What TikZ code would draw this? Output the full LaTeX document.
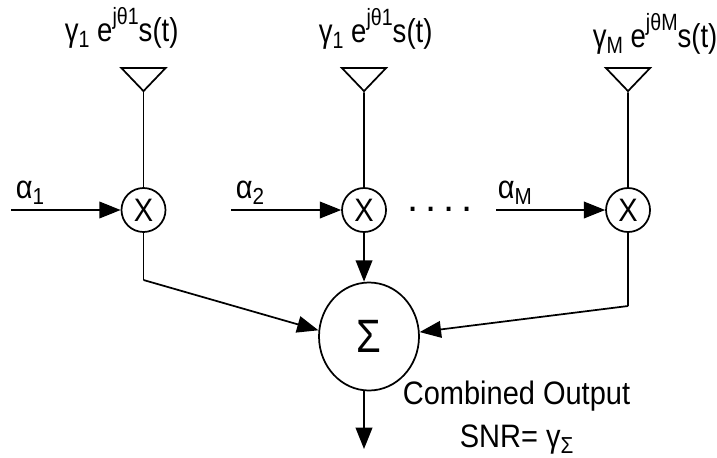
\documentclass[tikz,border=0pt]{standalone}
\usepackage{graphicx}
\usepackage{fontspec}
\setmainfont{Liberation Sans}
\usepackage{tikz}
\usetikzlibrary{shapes.geometric, arrows.meta}

\newcommand{\upidx}[1]{\raisebox{0.5em}{\fontsize{15.5pt}{15.5pt}\selectfont #1}}
\newcommand{\lowidx}[1]{\raisebox{-0.2em}{\fontsize{15.5pt}{15.5pt}\selectfont #1}}
\newcommand{\tall}[1]{\scalebox{1}[1.12]{#1}}
\newcommand{\tallnarrow}[1]{\scalebox{0.95}[1.14]{#1}}

\begin{document}
\begin{tikzpicture}[
    x=0.75pt, y=-0.75pt,
    line width=1.3pt,
    >={Triangle[length=16pt,width=12.5pt]},
    node distance=165.4pt,
    every node/.style={font=\fontsize{21.75pt}{24pt}\selectfont},
    mixer/.style={circle, draw, inner sep=0pt, minimum size=33pt},
    summer/.style={ellipse, draw, inner sep=0pt, minimum width=75pt, minimum height=81pt, font=\fontsize{30pt}{32pt}\selectfont},
    antenna/.style={isosceles triangle, isosceles triangle apex angle=87, isosceles triangle stretches, shape border rotate=270, draw, inner sep=0pt, minimum width=33pt, minimum height=17.25pt},
    txt/.style={anchor=base west, inner sep=0pt}
]
\useasboundingbox (0,0) rectangle (717,457);

\node[mixer] (x1) at (143.5,210) {\tall{X}};
\node[mixer] (x2) [right of=x1] {\tall{X}};
\node[mixer] (x3) [right of=x2, node distance=198pt] {\tall{X}};
\node[summer] (sum) at (369,336.5) {\scalebox{1}[1.17]{Σ}};

\node[antenna] (a1) at (143.5,77.5) {};
\node[antenna] (a2) at (364,77.5) {};
\node[antenna] (a3) at (628,77.5) {};

\coordinate (in1) at (11,210);
\coordinate (in2) at (231,210);
\coordinate (in3) at (496,210);
\coordinate (c1) at (143.5,280);
\coordinate (c3) at (628,306);
\coordinate (out) at (364,449);

\node[txt] (g1) at (64,41) {\tallnarrow{γ\lowidx{1} e\upidx{jθ1}s(t)}};
\node[txt] (g2) at (318,42) {\tallnarrow{γ\lowidx{1} e\upidx{jθ1}s(t)}};
\node[txt] (g3) at (592,47) {\tallnarrow{γ\lowidx{M} e\upidx{jθM}s(t)}};
\node[txt] (al1) at (15,198) {\tall{α\lowidx{1}}};
\node[txt] (al2) at (235,198) {\tall{α\lowidx{2}}};
\node[txt] (al3) at (497,198) {\tall{α\lowidx{M}}};
\node[txt, font=\fontsize{30pt}{32pt}\selectfont] (dots) at (407,211) {.\hspace{5pt}.\hspace{5pt}.\hspace{5pt}.};
\node[txt] (comb) at (402,404) {\tall{Combined Output}};
\node[txt] (snr) at (459,447) {\tall{SNR= γ\lowidx{Σ}}};

\draw (a1.apex) -- (x1);
\draw (a2.apex) -- (x2);
\draw (a3.apex) -- (x3);

\draw[->] (in1) -- (x1);
\draw[->] (in2) -- (x2);
\draw[->] (in3) -- (x3);

\draw (x1) -- (c1);
\draw[->] (c1) -- (sum.173);
\draw[->] (x2) -- (x2 |- sum.north);
\draw (x3) -- (c3);
\draw[->] (c3) -- (sum.5);
\draw[->] (out |- sum.south) -- (out);
\end{tikzpicture}
\end{document}
